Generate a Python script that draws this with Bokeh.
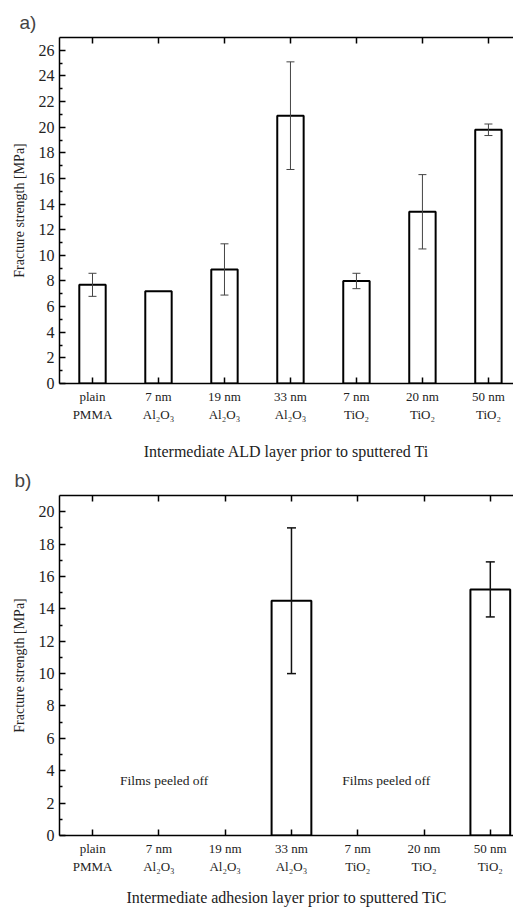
import numpy as np
from bokeh.plotting import figure
from bokeh.models import Range1d, FixedTicker, LinearAxis, Whisker, TeeHead, ColumnDataSource
from bokeh.layouts import column
from bokeh.embed import file_html
from bokeh.resources import INLINE
from bokeh.core.properties import value

categories = ["plain\nPMMA", "7 nm\nAl\u2082O\u2083", "19 nm\nAl\u2082O\u2083", "33 nm\nAl\u2082O\u2083",
              "7 nm\nTiO\u2082", "20 nm\nTiO\u2082", "50 nm\nTiO\u2082"]
strength_ti = [7.7, 7.2, 8.9, 20.9, 8.0, 13.4, 19.8]
error_ti = [0.9, None, 2.0, 4.2, 0.6, 2.9, 0.45]
strength_tic = [None, None, None, 14.5, None, None, 15.2]
error_tic = [None, None, None, 4.5, None, None, 1.7]
notes_tic = ["Films peeled off", "Films peeled off"]
note_x = [1.08, 4.43]
note_y = [3.4, 3.4]

SERIF = "Liberation Serif"


def make_panel(tag, values, errors, ymax, xlabel, bar_w, err_color, err_w, cap, height,
               border_left, border_top, border_bottom, xend, title_offset, label_standoff):
    p = figure(width=513, height=height, output_backend="svg", toolbar_location=None,
               x_range=Range1d(-0.5, xend), y_range=Range1d(0, ymax),
               min_border_left=border_left, min_border_right=0,
               min_border_top=border_top, min_border_bottom=border_bottom,
               background_fill_color="white", border_fill_color="white")
    p.outline_line_color = None
    p.xgrid.visible = False
    p.ygrid.visible = False

    p.title.text = tag
    p.title.text_font = "Liberation Sans"
    p.title.text_font_size = "19px"
    p.title.text_font_style = "normal"
    p.title.align = "left"
    p.title.offset = title_offset

    idx = list(range(len(categories)))
    xt = FixedTicker(ticks=idx, minor_ticks=[])
    yt = FixedTicker(ticks=list(range(0, int(ymax), 2)), minor_ticks=list(range(1, int(ymax), 2)))

    xa = p.xaxis[0]
    xa.ticker = xt
    xa.major_label_overrides = {i: c for i, c in zip(idx, categories)}
    ya = p.yaxis[0]
    ya.ticker = yt

    for ax in (xa, ya):
        ax.axis_line_width = 1.5
        ax.major_tick_in = 6
        ax.major_tick_out = 0
        ax.minor_tick_in = 3
        ax.minor_tick_out = 0
        ax.major_tick_line_width = 1.5
        ax.minor_tick_line_width = 1.5
        ax.major_label_text_font = SERIF
        ax.axis_label_text_font = SERIF
        ax.axis_label_text_font_style = "normal"
        ax.axis_label_text_color = "#222222"
        ax.major_label_text_color = "#222222"

    xa.major_label_text_font_size = "13px"
    xa.major_label_standoff = 5
    xa.axis_label = xlabel
    xa.axis_label_text_font_size = "16px"
    xa.axis_label_standoff = label_standoff
    ya.major_label_text_font_size = "16px"
    ya.major_label_standoff = 5
    ya.axis_label = "Fracture strength [MPa]"
    ya.axis_label_text_font_size = "14px"
    ya.axis_label_standoff = 9

    # top frame line with inward ticks at the category positions (no labels)
    top_ticker = FixedTicker(ticks=[], minor_ticks=idx)
    top = LinearAxis(ticker=top_ticker, major_tick_in=0, major_tick_out=0,
                     minor_tick_in=6, minor_tick_out=0,
                     axis_line_width=1.5, minor_tick_line_width=1.5)
    p.add_layout(top, "above")

    xs = [i for i, v in zip(idx, values) if v is not None]
    vs = [v for v in values if v is not None]
    p.vbar(x=xs, top=vs, width=bar_w, bottom=0, fill_color="white",
           line_color="black", line_width=2)

    ex = [i for i, v, e in zip(idx, values, errors) if v is not None and e is not None]
    ev = [v for v, e in zip(values, errors) if v is not None and e is not None]
    ee = [e for v, e in zip(values, errors) if v is not None and e is not None]
    src = ColumnDataSource(dict(x=ex, upper=[v + e for v, e in zip(ev, ee)],
                                lower=[v - e for v, e in zip(ev, ee)]))
    w = Whisker(base="x", upper="upper", lower="lower", source=src, level="overlay",
                line_color=err_color, line_width=err_w,
                upper_head=TeeHead(size=cap, line_color=err_color, line_width=err_w),
                lower_head=TeeHead(size=cap, line_color=err_color, line_width=err_w))
    p.add_layout(w)
    return p


p1 = make_panel("a)", strength_ti, error_ti, 27, "Intermediate ALD layer prior to sputtered Ti",
                0.4, "#444444", 1, 8, 462, 57, 37, 79, 6.38, -40, 18)
p2 = make_panel("b)", strength_tic, error_tic, 21, "Intermediate adhesion layer prior to sputtered TiC",
                0.6, "#111111", 1.5, 9, 446, 59, 28, 65, 6.35, -45, 12)
p2.text(x=note_x, y=note_y, text=notes_tic, text_font=value(SERIF), text_font_size="13.5px",
        text_align="center", text_baseline="middle", text_color="#222222")

layout = column(p1, p2, spacing=0)
open("out.html", "w").write(file_html(layout, INLINE))
